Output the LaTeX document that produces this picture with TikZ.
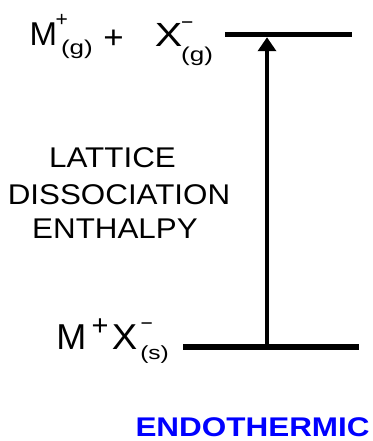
\documentclass[tikz,border=0pt]{standalone}
\usepackage{graphicx}
\usepackage{fontspec}
\setmainfont{Liberation Sans}
\usetikzlibrary{arrows.meta}
\newcommand\txt[3]{\fontsize{#1}{#1}\selectfont\scalebox{#2}[1]{#3}}
\begin{document}
\begin{tikzpicture}[x=1pt,y=-1pt,
  lbl/.style={anchor=base west,inner sep=0pt,outer sep=0pt},
  lblc/.style={anchor=base,inner sep=0pt,outer sep=0pt},
  level/.style={line width=5.5pt},
  arr/.style={line width=3.5pt,-{Triangle[width=18pt,length=14pt]}}]
\useasboundingbox (0,0) rectangle (372,441);
% top state
\node[lbl] (m1) at (29.6,46) {\txt{33}{1}{M}};
\node[lbl] (m1p) at (55.5,26.4) {\txt{21}{1}{+}};
\node[lbl] (m1g) at (61,55) {\txt{20}{1.3}{(g)}};
\node[lbl] (plus) at (103.3,48.7) {\txt{32}{1.09}{+}};
\node[lbl] (x1) at (154.8,47) {\txt{33.5}{1.23}{X}};
\node[lbl] (x1m) at (181,29.4) {\txt{21}{1}{−}};
\node[lbl] (x1g) at (181.2,61.5) {\txt{20}{1.3}{(g)}};
% bottom state
\node[lbl] (m2) at (56.3,349) {\txt{36}{1}{M}};
\node[lbl] (m2p) at (91.6,335.7) {\txt{29}{1}{+}};
\node[lbl] (x2) at (111.8,349) {\txt{36}{1.06}{X}};
\node[lbl] (x2m) at (140.5,330.4) {\txt{21}{1}{−}};
\node[lbl] (x2s) at (140.3,359) {\txt{19}{1.29}{(s)}};
% label
\node[lblc] (l1) at (112.5,167) {\txt{28.5}{1.1}{LATTICE}};
\node[lblc] (l2) at (119,204) {\txt{28.5}{1.1}{DISSOCIATION}};
\node[lblc] (l3) at (115,238) {\txt{28.5}{1.1}{ENTHALPY}};
\node[lbl,text=blue] (endo) at (135.5,436) {\bfseries\txt{27}{1.165}{ENDOTHERMIC}};
% levels and arrow
\coordinate (tl) at (225,34.5);
\coordinate (tr) at (352,34.5);
\coordinate (bl) at (183,347);
\coordinate (br) at (359,347);
\coordinate (abase) at (267,347);
\coordinate (atip) at (267,37.25);
\draw[level] (tl) -- (tr);
\draw[level] (bl) -- (br);
\draw[arr] (abase) -- (atip);
\end{tikzpicture}
\end{document}
